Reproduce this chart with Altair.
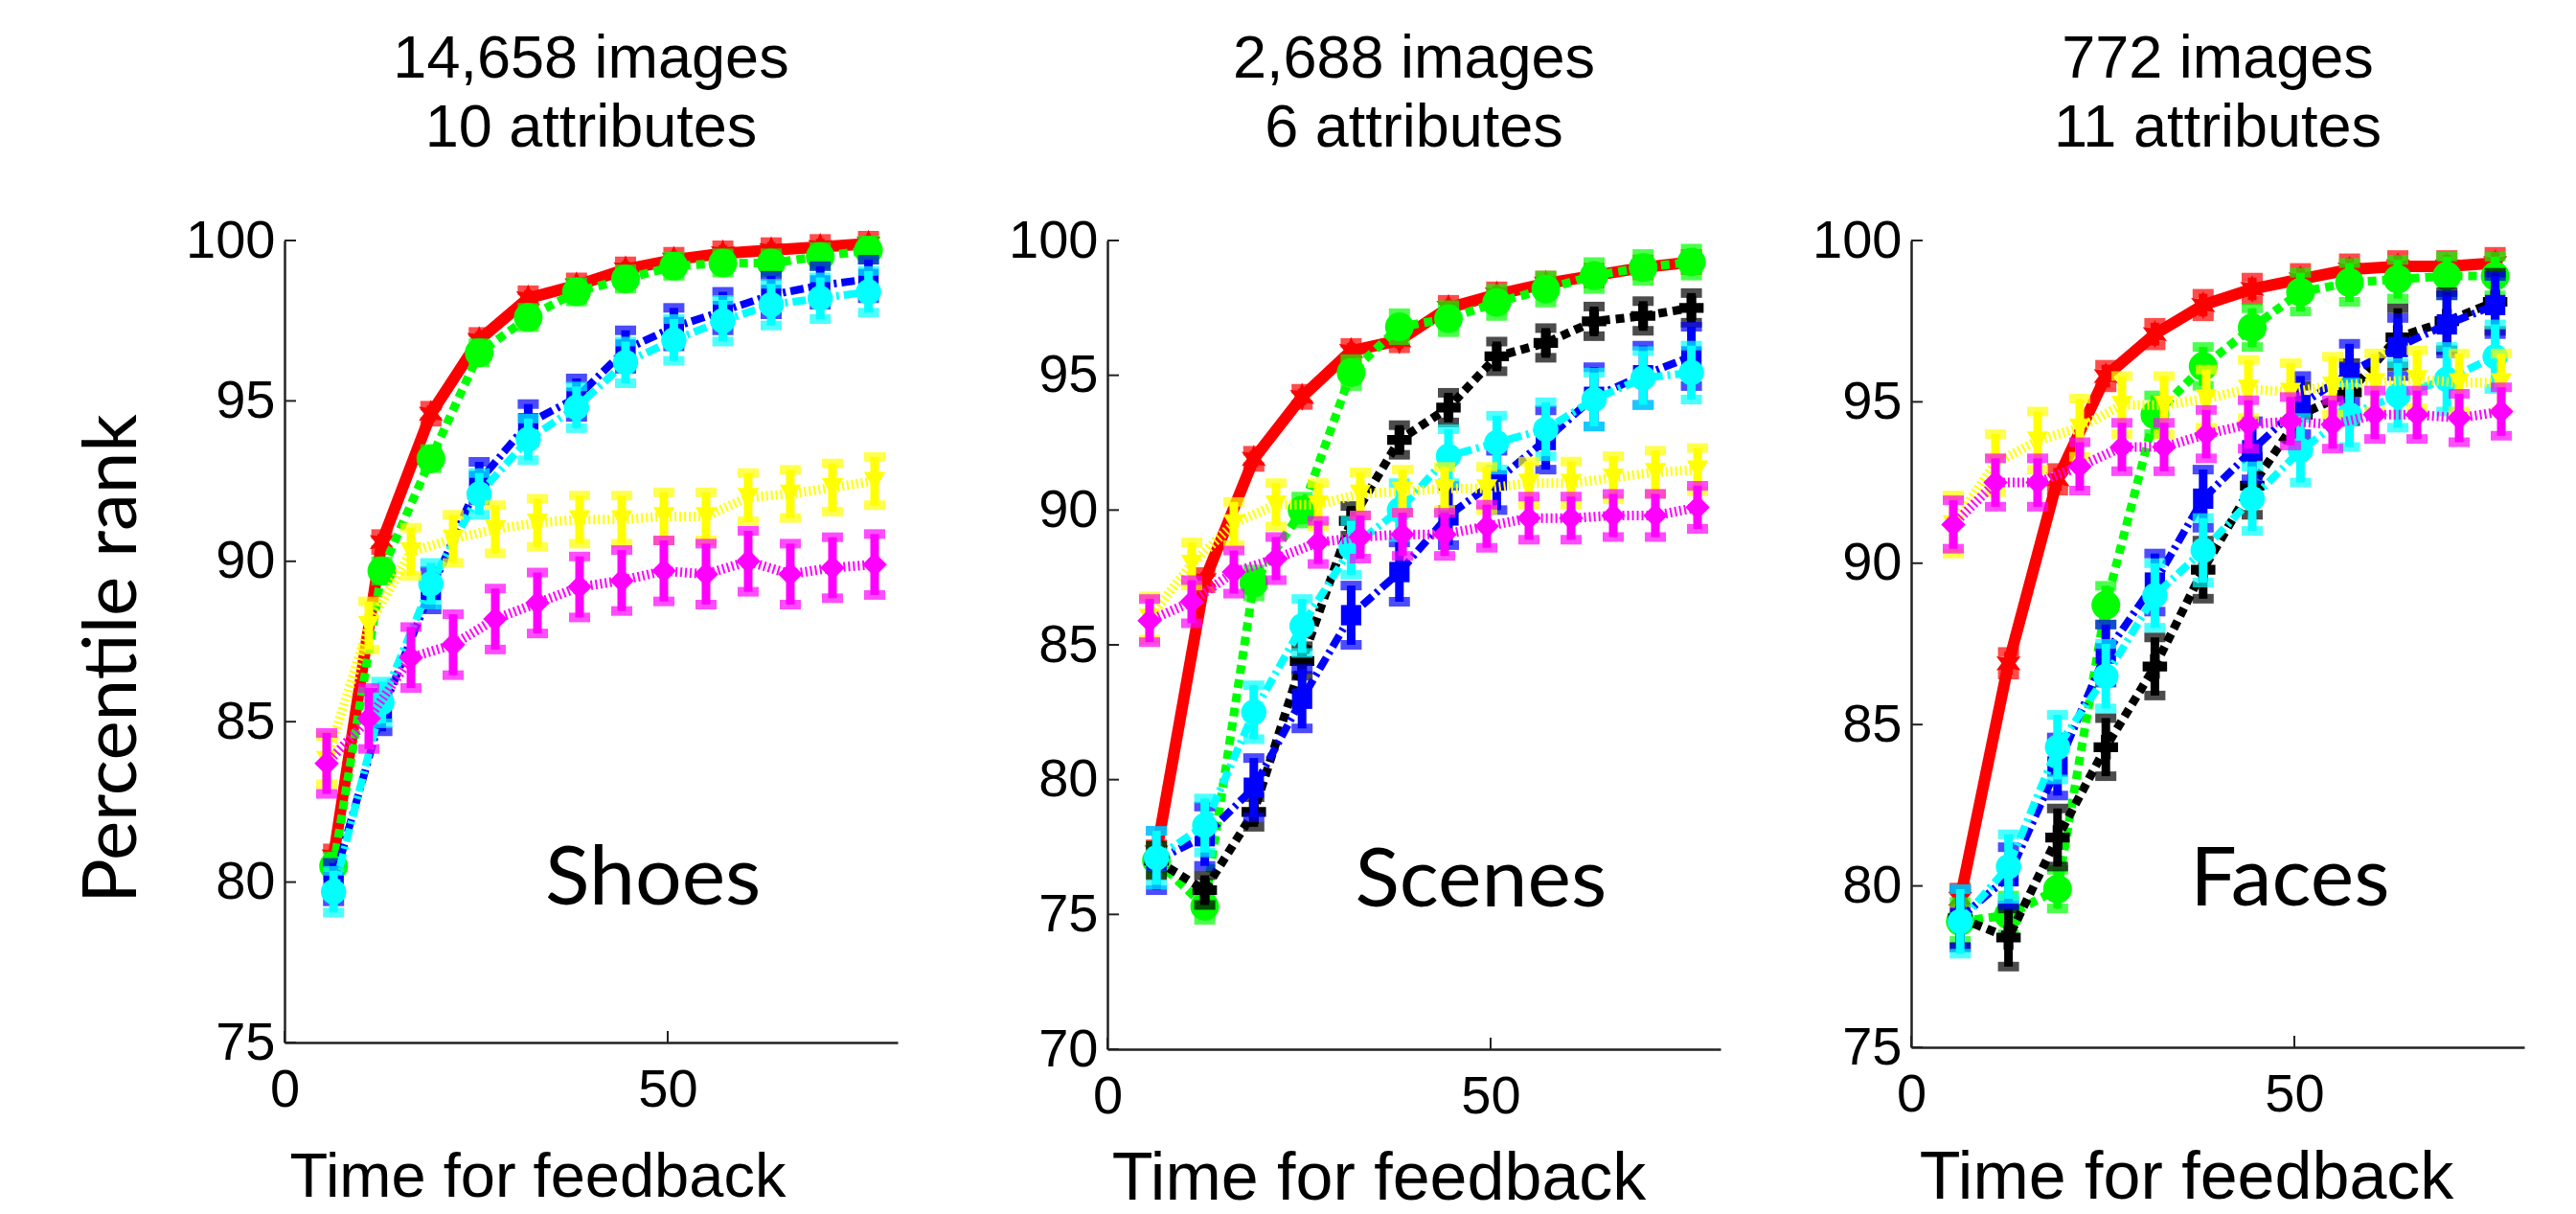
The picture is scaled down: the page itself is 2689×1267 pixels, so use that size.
import altair as alt
import pandas as pd

# x positions (time for feedback)
FAST_X = [6.4, 12.7, 19.1, 25.4, 31.8, 38.1, 44.5, 50.8, 57.2, 63.5, 69.9, 76.2]
SLOW_X = [5.5, 11.0, 16.5, 22.0, 27.5, 33.0, 38.5, 44.0, 49.5, 55.0, 60.5, 66.0, 71.5, 77.0]

# Shoes
SHOES_RED = [80.8, 90.6, 94.6, 96.9, 98.2, 98.6, 99.1, 99.4, 99.6, 99.7, 99.8, 99.9]
SHOES_GREEN = [80.5, 89.7, 93.2, 96.5, 97.6, 98.4, 98.8, 99.2, 99.3, 99.3, 99.5, 99.7]
SHOES_BLUE = [80.0, 85.3, 89.1, 92.5, 94.3, 95.1, 96.6, 97.3, 97.8, 98.3, 98.6, 98.8]
SHOES_CYAN = [79.7, 85.6, 89.3, 92.1, 93.8, 94.8, 96.2, 96.9, 97.5, 98.0, 98.2, 98.4]
SHOES_YELLOW = [83.8, 88.0, 90.3, 90.7, 91.0, 91.2, 91.3, 91.3, 91.4, 91.4, 92.0, 92.1, 92.3, 92.5]
SHOES_MAGENTA = [83.7, 85.1, 87.0, 87.4, 88.2, 88.7, 89.2, 89.4, 89.7, 89.6, 90.0, 89.6, 89.8, 89.9]

# Scenes
SCENES_RED = [77.3, 87.4, 91.9, 94.2, 95.9, 96.3, 97.5, 98.0, 98.4, 98.7, 99.0, 99.2]
SCENES_GREEN = [77.0, 75.3, 87.3, 90.0, 95.1, 96.8, 97.1, 97.7, 98.2, 98.7, 99.0, 99.2]
SCENES_BLACK = [77.0, 75.9, 78.8, 84.4, 89.6, 92.6, 93.8, 95.7, 96.2, 97.0, 97.2, 97.5]
SCENES_BLUE = [77.0, 77.9, 79.7, 83.0, 86.1, 87.7, 89.8, 91.1, 92.6, 94.2, 95.0, 95.7]
SCENES_CYAN = [77.1, 78.3, 82.5, 85.7, 88.6, 90.0, 92.0, 92.5, 93.0, 94.1, 94.9, 95.1]
SCENES_YELLOW = [86.0, 88.0, 89.5, 90.2, 90.2, 90.6, 90.7, 90.8, 90.8, 91.0, 91.0, 91.2, 91.4, 91.5]
SCENES_MAGENTA = [85.9, 86.6, 87.7, 88.2, 88.8, 89.0, 89.1, 89.1, 89.4, 89.7, 89.7, 89.8, 89.8, 90.1]

# Faces
FACES_RED = [79.6, 86.9, 92.6, 95.8, 97.1, 98.0, 98.5, 98.8, 99.1, 99.2, 99.2, 99.3]
FACES_GREEN = [78.9, 79.1, 79.9, 88.7, 94.6, 96.1, 97.3, 98.4, 98.7, 98.8, 98.9, 98.9]
FACES_BLACK = [79.0, 78.4, 81.5, 84.3, 86.8, 89.8, 92.4, 94.6, 95.3, 97.0, 97.5, 98.1]
FACES_BLUE = [79.0, 80.3, 83.7, 87.2, 89.4, 92.0, 93.5, 94.9, 95.9, 96.7, 97.4, 98.0]
FACES_CYAN = [78.9, 80.6, 84.3, 86.5, 89.0, 90.4, 92.0, 93.5, 94.6, 95.2, 95.7, 96.4]
FACES_YELLOW = [91.2, 93.1, 93.8, 94.2, 94.9, 94.9, 95.1, 95.4, 95.3, 95.5, 95.6, 95.7, 95.6, 95.6]
FACES_MAGENTA = [91.2, 92.5, 92.5, 93.0, 93.6, 93.6, 94.0, 94.3, 94.4, 94.3, 94.6, 94.6, 94.5, 94.7]

# error bar half-widths (per series, per panel)
SHOES_ERR = {"red": 0.25, "green": 0.3, "blue": 0.6, "cyan": 0.65, "yellow": 0.75, "magenta": 0.95}
SCENES_ERR = {"red": 0.3, "green": 0.5, "black": 0.55, "blue": 1.1, "cyan": 1.0, "yellow": 0.8, "magenta": 0.8}
FACES_ERR = {"red": 0.35, "green": 0.6, "black": 0.9, "blue": 0.9, "cyan": 1.0, "yellow": 0.9, "magenta": 0.75}

ORDER = ["red", "green", "black", "blue", "cyan", "yellow", "magenta"]
SLOW = {"yellow", "magenta"}

HEXAGRAM = ("M0,-1L0.25,-0.433L0.866,-0.5L0.5,0L0.866,0.5L0.25,0.433L0,1L-0.25,0.433"
            "L-0.866,0.5L-0.5,0L-0.866,-0.5L-0.25,-0.433Z")

STYLE = {
    "red": dict(color="#ff0000", width=12, dash=None, shape=HEXAGRAM, size=850),
    "green": dict(color="#00ff00", width=9, dash=[9, 6], shape="circle", size=900),
    "black": dict(color="#000000", width=9, dash=[9, 6], shape="cross", size=650),
    "blue": dict(color="#0000ff", width=8, dash=[14, 5, 3, 5], shape="square", size=450),
    "cyan": dict(color="#00ffff", width=8, dash=[14, 5, 3, 5], shape="circle", size=700),
    "yellow": dict(color="#ffff00", width=10, dash=[2, 3], shape="triangle-down", size=500),
    "magenta": dict(color="#ff00ff", width=10, dash=[2, 3], shape="diamond", size=650),
}

PANELS = [
    dict(name="Shoes", title=["14,658 images", "10 attributes"], ymin=75, height=837,
         series={"red": SHOES_RED, "green": SHOES_GREEN, "blue": SHOES_BLUE, "cyan": SHOES_CYAN,
                 "yellow": SHOES_YELLOW, "magenta": SHOES_MAGENTA},
         err=SHOES_ERR, lx=34.0, ly=79.3, xtx=264, xty=160, xtf=65),
    dict(name="Scenes", title=["2,688 images", "6 attributes"], ymin=70, height=844,
         series={"red": SCENES_RED, "green": SCENES_GREEN, "black": SCENES_BLACK, "blue": SCENES_BLUE,
                 "cyan": SCENES_CYAN, "yellow": SCENES_YELLOW, "magenta": SCENES_MAGENTA},
         err=SCENES_ERR, lx=32.3, ly=75.3, xtx=283, xty=156, xtf=70),
    dict(name="Faces", title=["772 images", "11 attributes"], ymin=75, height=842,
         series={"red": FACES_RED, "green": FACES_GREEN, "black": FACES_BLACK, "blue": FACES_BLUE,
                 "cyan": FACES_CYAN, "yellow": FACES_YELLOW, "magenta": FACES_MAGENTA},
         err=FACES_ERR, lx=36.4, ly=79.4, xtx=287, xty=157, xtf=70),
]

rows = []
for p in PANELS:
    for s, vals in p["series"].items():
        xs = SLOW_X if s in SLOW else FAST_X
        e = p["err"][s]
        for x, y in zip(xs, vals):
            rows.append(dict(panel=p["name"], series=s, x=x, y=y, lo=y - e, hi=y + e))
df = pd.DataFrame(rows)

AX_FONT = "Liberation Sans"


def make_panel(p, first):
    d = df[df.panel == p["name"]]
    ymin = p["ymin"]
    pxy = p["height"] / (100 - ymin)  # pixels per y unit
    xsc = alt.Scale(domain=[0, 80], nice=False, zero=False)
    ysc = alt.Scale(domain=[ymin, 100], nice=False, zero=False)
    yticks = list(range(ymin, 101, 5))
    xaxis = alt.Axis(values=[0, 50], tickSize=0, labelPadding=22, labelFont=AX_FONT, labelFontSize=56,
                     labelColor="black", labelFlush=False, labelOverlap=False, domainColor="#222222",
                     domainWidth=2.5, grid=False, title="Time for feedback", titleFont=AX_FONT,
                     titleFontSize=p["xtf"], titleFontWeight="normal", titleColor="black",
                     titleX=p["xtx"], titleY=p["xty"], titleBaseline="alphabetic", titleAlign="center")
    yaxis_kw = dict(values=yticks, tickSize=0, labelPadding=10, labelFont=AX_FONT, labelFontSize=56,
                    labelColor="black", labelOverlap=False, domainColor="#222222",
                    domainWidth=2.5, grid=False)
    if first:
        yaxis = alt.Axis(title="Percentile rank", titleFont="Lato", titleFontSize=78,
                         titleFontWeight="normal", titleColor="black", titleAngle=270,
                         titleX=-156, titleY=436, titleBaseline="alphabetic", titleAlign="center",
                         **yaxis_kw)
    else:
        yaxis = alt.Axis(title="", **yaxis_kw)

    X = alt.X("x:Q", scale=xsc, axis=xaxis)

    def Yf(field):
        return alt.Y(field, type="quantitative", scale=ysc, axis=yaxis)

    layers = []
    # inward ticks (12 px long)
    ytk = alt.Chart(pd.DataFrame({"y": yticks, "x": [0.0] * len(yticks), "x2": [1.5] * len(yticks)})).mark_rule(
        strokeWidth=2, color="#222222").encode(x=X, x2="x2:Q", y=Yf("y"))
    xtk = alt.Chart(pd.DataFrame({"x": [0.0, 50.0], "y": [ymin, ymin], "y2": [ymin + 12 / pxy] * 2})).mark_rule(
        strokeWidth=2, color="#222222").encode(x=X, y=Yf("y"), y2="y2:Q")
    layers += [ytk, xtk]

    for s in ORDER:
        if s not in p["series"]:
            continue
        st = STYLE[s]
        base = alt.Chart(d).transform_filter(alt.datum.series == s)
        lkw = dict(color=st["color"], strokeWidth=st["width"], strokeCap="butt")
        if st["dash"]:
            lkw["strokeDash"] = st["dash"]
        layers.append(base.mark_line(**lkw).encode(x=X, y=Yf("y"), order="x:Q"))
        layers.append(base.mark_rule(color=st["color"], strokeWidth=9).encode(
            x=X, y=Yf("lo"), y2="hi:Q"))
        layers.append(base.mark_tick(orient="horizontal", size=22, thickness=10, color=st["color"]).encode(
            x=X, y=Yf("lo")))
        layers.append(base.mark_tick(orient="horizontal", size=22, thickness=10, color=st["color"]).encode(
            x=X, y=Yf("hi")))
        layers.append(base.mark_point(filled=True, shape=st["shape"], size=st["size"], color=st["color"],
                                      opacity=1).encode(x=X, y=Yf("y")))

    lab = alt.Chart(pd.DataFrame({"t": [p["name"]], "x": [p["lx"]], "y": [p["ly"]]})).mark_text(
        font="Lato", fontSize=86, align="left", baseline="alphabetic", color="black").encode(
        x=X, y=Yf("y"), text="t:N")
    layers.append(lab)

    return alt.layer(*layers).properties(
        width=640, height=p["height"],
        title=alt.TitleParams(text=p["title"], font=AX_FONT, fontSize=63, fontWeight="normal",
                              color="black", lineHeight=72, offset=57, anchor="middle"))


p1 = make_panel(PANELS[0], True)
p2 = make_panel(PANELS[1], False)
p3 = make_panel(PANELS[2], False)

chart = alt.hconcat(p1, alt.hconcat(p2, p3, spacing=94), spacing=114).properties(
    padding={"left": 70, "top": 22, "right": 0, "bottom": 0},
    background="white",
).configure_view(stroke="transparent")

chart.save("out.html", embed_options={"renderer": "svg", "actions": False})
